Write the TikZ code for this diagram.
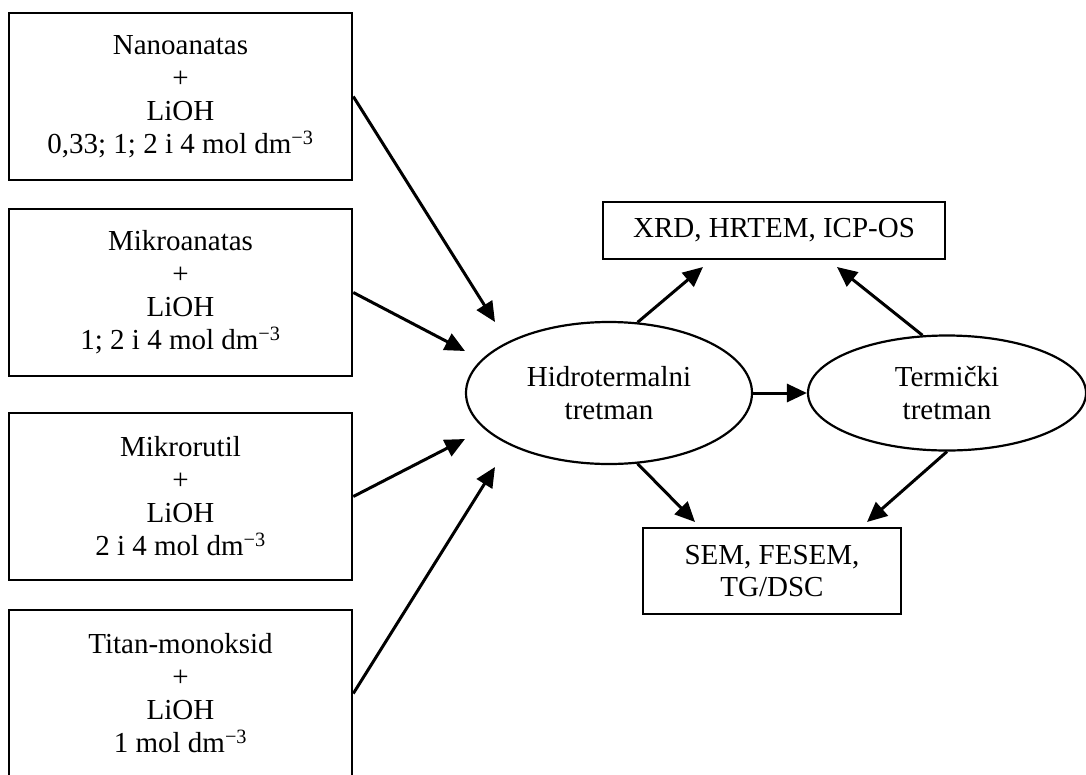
\documentclass[tikz,border=0pt]{standalone}
\usepackage{fontspec}
\setmainfont{Liberation Serif}
\usetikzlibrary{shapes}
\usetikzlibrary{arrows.meta}
\usetikzlibrary{positioning}

\begin{document}
\begin{tikzpicture}[x=1pt,y=-1pt]
	\tikzset{sample/.style = {shape=rectangle,draw,line width=2.6pt,
			minimum width=343pt,minimum height=167pt,inner sep=0pt,
			align=center,font=\fontsize{29}{33}\selectfont}}
	\tikzset{method/.style = {shape=rectangle,draw,line width=2.6pt,
			inner sep=0pt,align=center,font=\fontsize{29}{32}\selectfont}}
	\tikzset{process/.style = {shape=ellipse,draw,line width=2.2pt,
			inner sep=0pt,align=center,font=\fontsize{29}{33}\selectfont}}
	\tikzset{edge/.style = {-{Triangle[length=20pt,width=18pt]}, line width=3pt}}
	
	\useasboundingbox (0,0) rectangle (1086,774);
	
	% vertices
	\node[sample] (nano) at (180.5,96.5) {Nanoanatas\\+\\LiOH\\0,33; 1; 2 i 4 mol dm\textsuperscript{−3}};
	\node[sample] (mikroa) at (180.5,292.5) {Mikroanatas\\+\\LiOH\\1; 2 i 4 mol dm\textsuperscript{−3}};
	\node[sample] (mikror) at (180.5,496.5) {Mikrorutil\\+\\LiOH\\2 i 4 mol dm\textsuperscript{−3}};
	\node[sample] (titan) at (180.5,693.5) {Titan-monoksid\\+\\LiOH\\1 mol dm\textsuperscript{−3}};
	
	\node[process, minimum width=286pt, minimum height=142pt] (hid) at (609,393) {Hidrotermalni\\tretman};
	\node[process, minimum width=278pt, minimum height=115pt] (ter) at (947,393) {Termički\\tretman};
	
	\node[method, minimum width=342pt, minimum height=57pt] (xrd) at (774,230.5) {XRD, HRTEM, ICP-OS};
	\node[method, minimum width=258pt, minimum height=86pt] (sem) at (772,571) {SEM, FESEM,\\TG/DSC};
	
	% free arrow ends
	\coordinate (h1) at (495,322);
	\coordinate (h2) at (465,351);
	\coordinate (h3) at (465,439);
	\coordinate (h4) at (495,467);
	\coordinate (x1) at (703,267);
	\coordinate (x2) at (837,267);
	\coordinate (s1) at (695,522);
	\coordinate (s2) at (867,522);
	
	%edges
	\draw[edge] (nano.east) to (h1);
	\draw[edge] (mikroa.east) to (h2);
	\draw[edge] (mikror.east) to (h3);
	\draw[edge] (titan.east) to (h4);
	\draw[edge] (hid.68) to (x1);
	\draw[edge] (ter.113) to (x2);
	\draw[edge] (hid.east) to (ter.west);
	\draw[edge] (hid.-68) to (s1);
	\draw[edge] (ter.south) to (s2);
	
\end{tikzpicture}
\end{document}
